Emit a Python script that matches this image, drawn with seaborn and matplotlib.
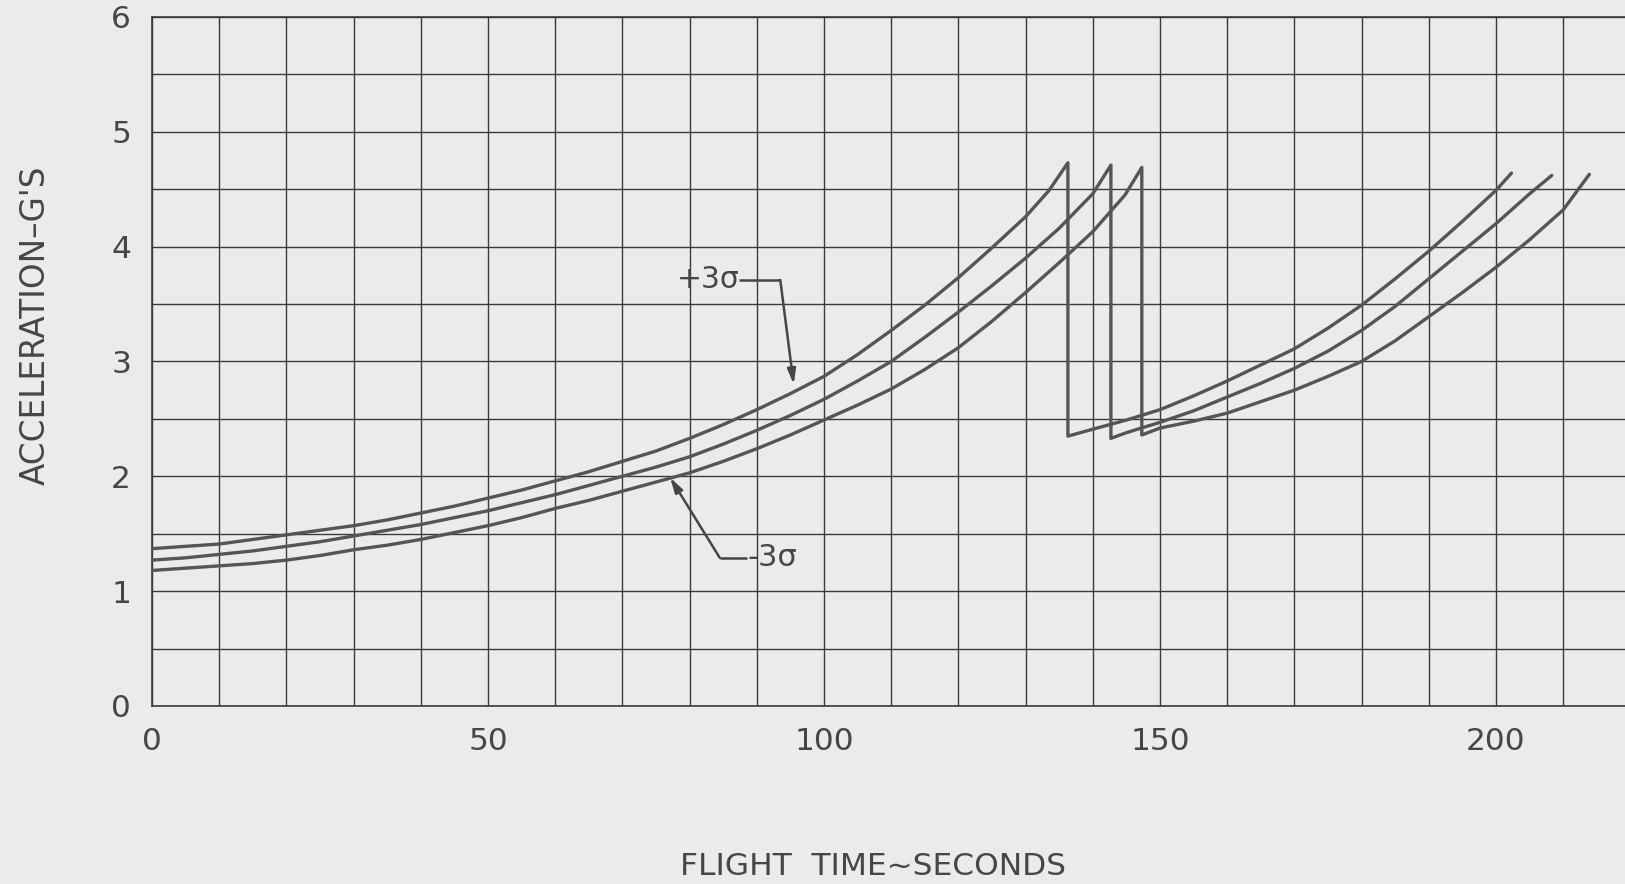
import matplotlib
matplotlib.use("Agg")
import matplotlib.pyplot as plt
import seaborn as sns
import pandas as pd

# +3 sigma curve: first stage up to burnout, then second stage
t_plus_s1 = [0, 5, 10, 15, 20, 25, 30, 35, 40, 45, 50, 55, 60, 65, 70, 75, 80, 85, 90, 95,
             100, 105, 110, 115, 120, 125, 130, 133.5, 136.3]
g_plus_s1 = [1.37, 1.39, 1.41, 1.45, 1.49, 1.53, 1.57, 1.62, 1.68, 1.74, 1.81, 1.88, 1.96, 2.04,
             2.13, 2.22, 2.33, 2.45, 2.58, 2.72, 2.87, 3.06, 3.27, 3.49, 3.73, 3.99, 4.26, 4.49, 4.73]
t_plus_s2 = [136.3, 140, 145, 150, 155, 160, 165, 170, 175, 180, 185, 190, 195, 200, 202.3]
g_plus_s2 = [2.35, 2.41, 2.49, 2.58, 2.70, 2.83, 2.97, 3.11, 3.29, 3.49, 3.72, 3.96, 4.22, 4.49, 4.64]

# nominal curve
t_nom_s1 = [0, 5, 10, 15, 20, 25, 30, 35, 40, 45, 50, 55, 60, 65, 70, 75, 80, 85, 90, 95,
            100, 105, 110, 115, 120, 125, 130, 135, 140, 142.7]
g_nom_s1 = [1.27, 1.29, 1.32, 1.35, 1.39, 1.43, 1.48, 1.53, 1.58, 1.64, 1.70, 1.77, 1.84, 1.92,
            2.00, 2.08, 2.17, 2.28, 2.40, 2.53, 2.67, 2.83, 3.00, 3.21, 3.43, 3.66, 3.90, 4.16,
            4.46, 4.71]
t_nom_s2 = [142.7, 145, 150, 155, 160, 165, 170, 175, 180, 185, 190, 195, 200, 205, 208.3]
g_nom_s2 = [2.33, 2.38, 2.47, 2.57, 2.69, 2.81, 2.94, 3.09, 3.27, 3.48, 3.72, 3.96, 4.20, 4.46, 4.62]

# -3 sigma curve
t_min_s1 = [0, 5, 10, 15, 20, 25, 30, 35, 40, 45, 50, 55, 60, 65, 70, 75, 80, 85, 90, 95,
            100, 105, 110, 115, 120, 125, 130, 135, 140, 144.8, 147.3]
g_min_s1 = [1.18, 1.20, 1.22, 1.24, 1.27, 1.31, 1.36, 1.40, 1.45, 1.51, 1.57, 1.64, 1.72, 1.79,
            1.87, 1.95, 2.03, 2.13, 2.24, 2.36, 2.49, 2.62, 2.76, 2.93, 3.12, 3.35, 3.60, 3.86,
            4.13, 4.45, 4.69]
t_min_s2 = [147.3, 150, 155, 160, 165, 170, 175, 180, 185, 190, 195, 200, 205, 210, 213.9]
g_min_s2 = [2.36, 2.42, 2.48, 2.55, 2.65, 2.75, 2.87, 3.00, 3.18, 3.39, 3.60, 3.82, 4.06, 4.32, 4.63]

x_ticks = [0, 50, 100, 150, 200]
y_ticks = [0, 1, 2, 3, 4, 5, 6]

bg = "#ebebeb"
ink = "#464646"
curve_col = "#555555"

sns.set_style("white", {"axes.facecolor": bg, "figure.facecolor": bg})
plt.rcParams["font.family"] = ["DejaVu Sans"]

fig = plt.figure(figsize=(16.25, 8.84), dpi=100)
ax = fig.add_axes([0.0935, 0.2014, 0.9065, 0.7794])

curves = [
    (t_plus_s1 + t_plus_s2, g_plus_s1 + g_plus_s2),
    (t_nom_s1 + t_nom_s2, g_nom_s1 + g_nom_s2),
    (t_min_s1 + t_min_s2, g_min_s1 + g_min_s2),
]
for t, g in curves:
    df = pd.DataFrame({"time": t, "accel": g})
    sns.lineplot(data=df, x="time", y="accel", sort=False, estimator=None,
                 color=curve_col, lw=2.4, ax=ax, zorder=3)

ax.set_xlim(0, 219.2)
ax.set_ylim(0, 6)
ax.set_xticks(x_ticks)
ax.set_yticks(y_ticks)
ax.set_xticks(range(0, 220, 10), minor=True)
ax.set_yticks([i * 0.5 for i in range(13)], minor=True)
ax.grid(which="both", color="#3a3a3a", lw=1.0)
ax.set_axisbelow(True)
ax.tick_params(which="both", length=0)
ax.tick_params(axis="x", pad=15, labelsize=22.5, labelcolor=ink)
ax.tick_params(axis="y", pad=15, labelsize=22.5, labelcolor=ink)

for side in ["left", "bottom", "top"]:
    ax.spines[side].set_color("#3a3a3a")
    ax.spines[side].set_linewidth(1.2)
ax.spines["right"].set_visible(False)

ax.set_xlabel("")
ax.set_ylabel("")
fig.text(0.537, 0.010, "FLIGHT  TIME~SECONDS", ha="center", va="baseline",
         fontsize=22.5, color=ink)
fig.text(0.022, 0.632, "ACCELERATION\u2013G'S", ha="center", va="center",
         rotation=90, fontsize=23.5, color=ink)

# sigma annotations
arrow = dict(arrowstyle="-|>,head_length=0.9,head_width=0.25", color=ink, lw=1.8,
             shrinkA=0, shrinkB=0)
ax.text(87.4, 3.71, "+3\u03c3", ha="right", va="center", fontsize=21.5, color=ink)
ax.plot([87.4, 93.5], [3.71, 3.71], color=ink, lw=1.8, solid_capstyle="butt")
ax.annotate("", xy=(95.5, 2.80), xytext=(93.5, 3.71), arrowprops=arrow)

ax.text(88.6, 1.29, "-3\u03c3", ha="left", va="center", fontsize=22, color=ink)
ax.plot([84.5, 88.6], [1.29, 1.29], color=ink, lw=1.8, solid_capstyle="butt")
ax.annotate("", xy=(77.1, 1.99), xytext=(84.5, 1.29), arrowprops=arrow)

fig.savefig("out.png", dpi=100, facecolor=bg)
